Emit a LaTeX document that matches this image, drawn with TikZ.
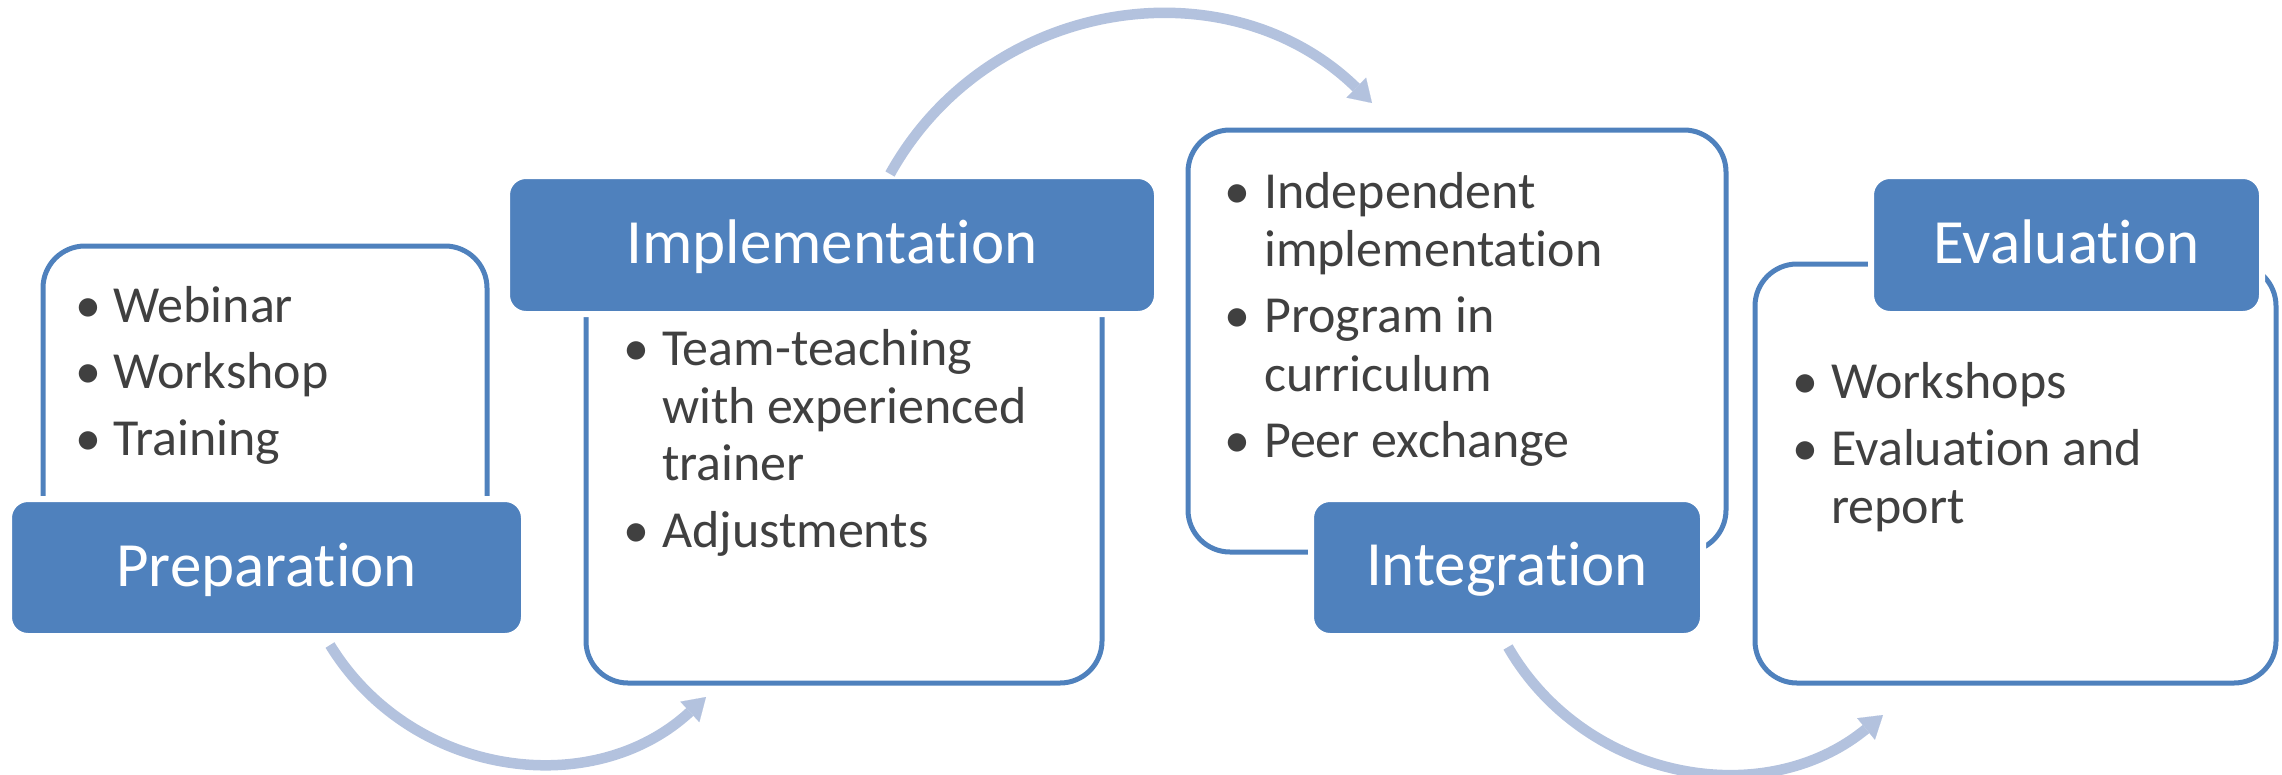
\documentclass[tikz,border=0pt]{standalone}
\usepackage{fontspec}
\setmainfont{Carlito}[Ligatures=NoCommon,Contextuals=NoAlternate]
\usetikzlibrary{arrows.meta}
\definecolor{accblue}{HTML}{4F81BD}
\definecolor{arrowblue}{RGB}{179,194,222}
\definecolor{txtgray}{HTML}{404040}
\begin{document}
\begin{tikzpicture}[x=1pt,y=-1pt,
  outlinebox/.style={draw=accblue, line width=5pt, rounded corners=42pt, inner sep=0pt},
  headbox/.style={fill=accblue, draw=white, line width=6pt, rounded corners=19pt, inner sep=0pt},
  title/.style={text=white, font=\fontsize{63}{63}\selectfont, anchor=base, inner sep=0pt},
  item/.style={text=txtgray, font=\fontsize{52}{58}\selectfont, anchor=base west, inner sep=0pt},
  dot/.style={text=txtgray, font=\fontsize{52}{58}\selectfont, anchor=base, inner sep=0pt},
  flow/.style={draw=arrowblue, line width=10.5pt, -{Triangle[length=22pt,width=28pt,line width=0.1pt]}}
]
\useasboundingbox (0,0) rectangle (2282,774);

% outline boxes
\node[outlinebox, minimum width=444pt, minimum height=354pt] (prepO) at (265,423) {};
\node[outlinebox, minimum width=516pt, minimum height=433pt] (implO) at (844,466.5) {};
\node[outlinebox, minimum width=538pt, minimum height=422pt] (integO) at (1457,341) {};
\node[outlinebox, minimum width=521pt, minimum height=419pt] (evalO) at (2015.5,473.5) {};

% heading boxes
\node[headbox, minimum width=515pt, minimum height=137pt] (prepF) at (266.5,567.5) {};
\node[headbox, minimum width=650pt, minimum height=138pt] (implF) at (832,245) {};
\node[headbox, minimum width=392pt, minimum height=137pt] (integF) at (1507,567.5) {};
\node[headbox, minimum width=391pt, minimum height=138pt] (evalF) at (2066.5,245) {};

% titles
\node[title] (prepT) at (266.5,586) {Preparation};
\node[title] (implT) at (832,263) {Implementation};
\node[title] (integT) at (1507,585) {Integration};
\node[title] (evalT) at (2066.5,263) {Evaluation};

% Preparation items
\node[dot] (pb1) at (88,322) {•};
\node[item] (p1) at (113,322) {Webinar};
\node[dot] (pb2) at (88,388) {•};
\node[item] (p2) at (113,388) {Workshop};
\node[dot] (pb3) at (88,455) {•};
\node[item] (p3) at (113,455) {Training};

% Implementation items
\node[dot] (ib1) at (636,365) {•};
\node[item] (i1) at (662,365) {Team-teaching};
\node[item] (i2) at (662,423) {with experienced};
\node[item] (i3) at (662,480) {trainer};
\node[dot] (ib2) at (636,547) {•};
\node[item] (i4) at (662,547) {Adjustments};

% Integration items
\node[dot] (gb1) at (1237,208) {•};
\node[item] (g1) at (1264,208) {Independent};
\node[item] (g2) at (1264,266) {implementation};
\node[dot] (gb2) at (1237,332) {•};
\node[item] (g3) at (1264,332) {Program in};
\node[item] (g4) at (1264,391) {curriculum};
\node[dot] (gb3) at (1237,457) {•};
\node[item] (g5) at (1264,457) {Peer exchange};

% Evaluation items
\node[dot] (eb1) at (1805,398) {•};
\node[item] (e1) at (1831,398) {Workshops};
\node[dot] (eb2) at (1805,465) {•};
\node[item] (e2) at (1831,465) {Evaluation and};
\node[item] (e3) at (1831,523) {report};

% flow arrows
\coordinate (a1s) at (330,645);
\coordinate (a1e) at (706,697);
\coordinate (a2s) at (890,174);
\coordinate (a2e) at (1372,103);
\coordinate (a3s) at (1508,647);
\coordinate (a3e) at (1883,715);
\draw[flow] (a1s) .. controls (410.9,777.0) and (592.3,802.0) .. (a1e);
\draw[flow] (a2s) .. controls (988.0,-2.8) and (1227.4,-38.1) .. (a2e);
\draw[flow] (a3s) .. controls (1585.1,780.5) and (1764.0,812.9) .. (a3e);
\end{tikzpicture}
\end{document}
